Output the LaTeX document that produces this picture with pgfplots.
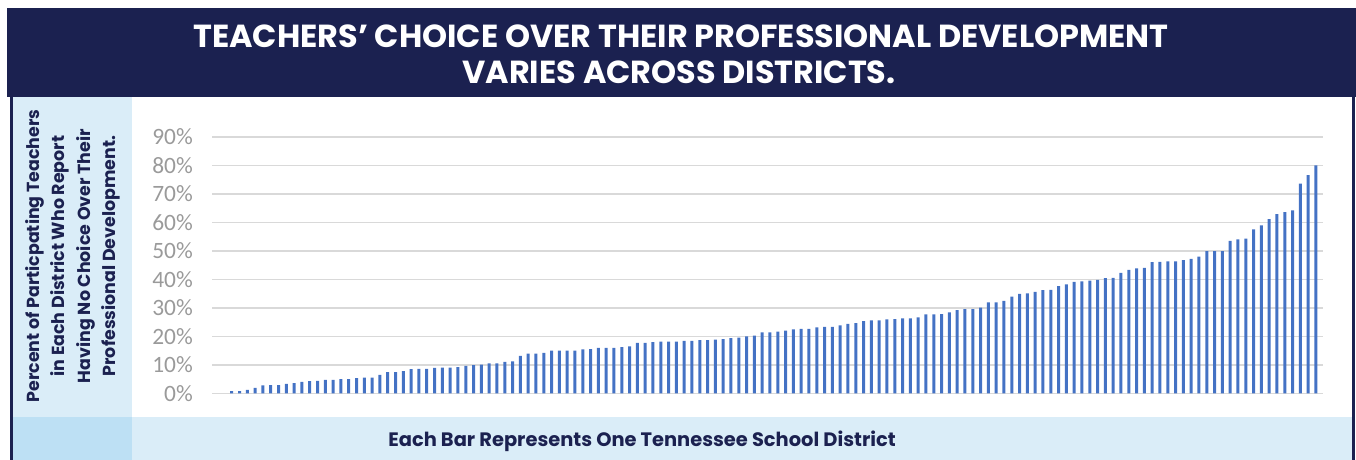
\documentclass[border=0pt]{standalone}
\usepackage{pgfplots}
\pgfplotsset{compat=1.18}
\usepackage{pgfplotstable}
\usepackage{fontspec}
\setmainfont{Poppins}
\newfontfamily\carlito{Carlito}
\definecolor{navy}{HTML}{1B2150}
\definecolor{lightband}{HTML}{DAEDF8}
\definecolor{midband}{HTML}{BDE0F4}
\definecolor{barblue}{HTML}{4472C4}
\definecolor{tickgray}{HTML}{9A9A9A}
\definecolor{gridgray}{HTML}{D9D9D9}

\pgfplotstableread{
x y
1 0.8
2 0.8
3 1.2
4 1.9
5 2.8
6 2.9
7 2.9
8 3.3
9 3.6
10 4.0
11 4.3
12 4.4
13 4.7
14 4.7
15 5.0
16 5.0
17 5.3
18 5.5
19 5.5
20 6.5
21 7.4
22 7.4
23 7.8
24 8.5
25 8.6
26 8.6
27 8.9
28 9.0
29 9.0
30 9.2
31 9.6
32 9.9
33 10.1
34 10.5
35 10.5
36 11.0
37 11.2
38 13.1
39 13.9
40 13.9
41 14.2
42 15.0
43 15.0
44 15.0
45 15.0
46 15.4
47 15.5
48 15.9
49 15.9
50 15.9
51 16.2
52 16.5
53 17.7
54 17.7
55 18.0
56 18.1
57 18.1
58 18.1
59 18.4
60 18.4
61 18.7
62 18.7
63 18.8
64 19.0
65 19.4
66 19.5
67 20.0
68 20.2
69 21.4
70 21.4
71 21.6
72 22.0
73 22.4
74 22.6
75 22.6
76 23.1
77 23.3
78 23.3
79 23.8
80 24.4
81 24.6
82 25.3
83 25.6
84 25.6
85 25.9
86 26.0
87 26.3
88 26.3
89 26.6
90 27.7
91 27.7
92 27.8
93 28.4
94 29.2
95 29.5
96 29.5
97 30.1
98 31.9
99 31.9
100 32.4
101 33.9
102 34.9
103 35.1
104 35.6
105 36.2
106 36.3
107 37.6
108 38.2
109 39.1
110 39.3
111 39.5
112 39.8
113 40.4
114 40.5
115 42.3
116 43.3
117 43.8
118 44.0
119 46.0
120 46.1
121 46.3
122 46.3
123 46.7
124 47.2
125 48.0
126 49.9
127 49.9
128 49.9
129 53.5
130 54.0
131 54.3
132 57.5
133 58.9
134 61.1
135 62.9
136 63.6
137 64.2
138 73.6
139 76.6
140 80.0
}\districts

\begin{document}
\begin{tikzpicture}
\useasboundingbox (0,0) rectangle (1356bp,-460bp);
% header
\fill[navy] (7bp,-8bp) rectangle (1356bp,-97bp);
% left column and bottom band
\fill[lightband] (12.7bp,-97bp) rectangle (132bp,-417bp);
\fill[lightband] (132bp,-417bp) rectangle (1352bp,-460bp);
\fill[midband] (12.7bp,-417bp) rectangle (132bp,-460bp);
% borders
\fill[navy] (10bp,-97bp) rectangle (12.7bp,-460bp);
\fill[navy] (1352bp,-97bp) rectangle (1354.5bp,-460bp);
% title
\node[text=white, anchor=base, inner sep=0pt, font=\bfseries\fontsize{32}{34}\selectfont] at (681bp,-47bp) {TEACHERS’ CHOICE OVER THEIR PROFESSIONAL DEVELOPMENT};
\node[text=white, anchor=base, inner sep=0pt, font=\bfseries\fontsize{32}{34}\selectfont] at (679bp,-83bp) {VARIES ACROSS DISTRICTS.};
% bottom label
\node[text=navy, anchor=base, inner sep=0pt, font=\bfseries\fontsize{19.5}{22}\selectfont] at (642bp,-446bp) {Each Bar Represents One Tennessee School District};
% y label
\node[text=navy, rotate=90, align=center, inner sep=0pt, font=\bfseries\fontsize{17.5}{25.5}\selectfont] at (73bp,-256bp) {Percent of Particpating Teachers\\in Each District Who Report\\Having No Choice Over Their\\Professional Development.};

\begin{axis}[
  at={(212bp,-393.3bp)}, anchor=south west,
  scale only axis, width=1111bp, height=256.5bp,
  xmin=-1.53, xmax=140.9, ymin=0, ymax=90,
  ybar, bar width=3bp, bar shift=0pt,
  xtick=\empty,
  ytick={0,10,20,30,40,50,60,70,80,90},
  yticklabels={0\%,10\%,20\%,30\%,40\%,50\%,60\%,70\%,80\%,90\%},
  axis line style={draw=none},
  major tick length=0pt,
  ymajorgrids,
  grid style={draw=gridgray, line width=1.4bp},
  yticklabel style={font=\carlito\fontsize{23.5}{23.5}\selectfont, text=tickgray, anchor=east, inner sep=0pt, xshift=-19bp},
]
\addplot[fill=barblue, draw=none] table[x=x, y=y] {\districts};
\end{axis}
\end{tikzpicture}
\end{document}
